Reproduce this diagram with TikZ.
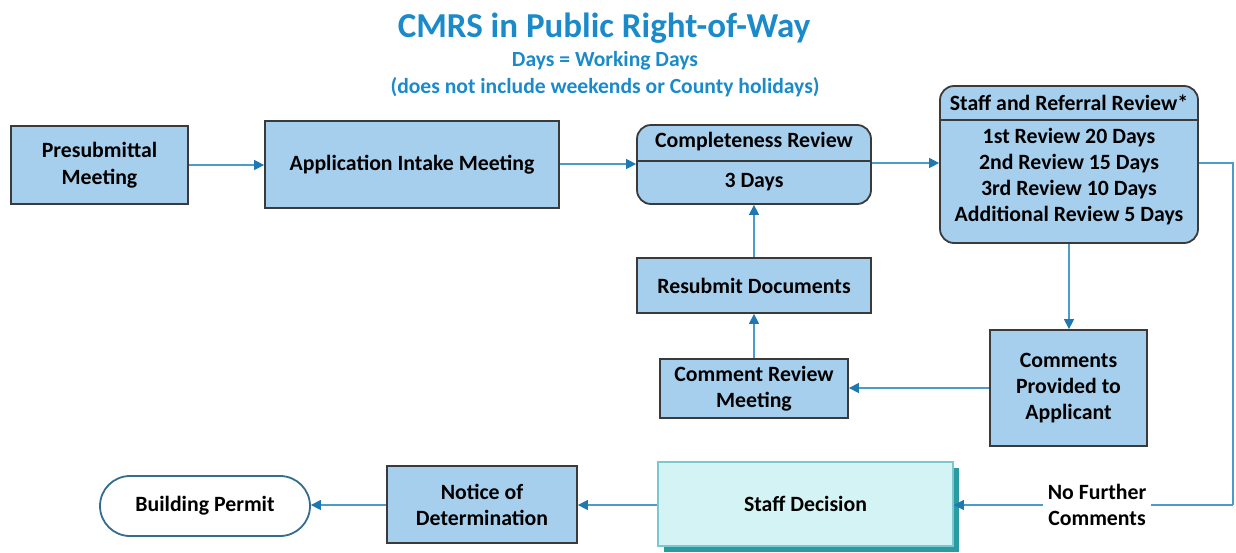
\documentclass[tikz,border=0pt]{standalone}
\usepackage{fontspec}
\setmainfont{Carlito}
\usetikzlibrary{arrows.meta}
\definecolor{boxfill}{HTML}{A6CFEE}
\definecolor{boxline}{HTML}{3A3A3A}
\definecolor{conn}{HTML}{4B9CCB}
\definecolor{tip}{HTML}{1F78B0}
\definecolor{titleblue}{HTML}{1B8ACB}
\definecolor{sdfill}{HTML}{D3F3F5}
\definecolor{sdline}{HTML}{7CC8D0}
\definecolor{sdshadow}{HTML}{2A9BA0}
\tikzset{
  box/.style={draw=boxline, fill=boxfill, line width=0.9pt, align=center, inner sep=0pt,
    font=\bfseries\fontsize{10.9pt}{13pt}\selectfont},
  rbox/.style={box, rounded corners=7pt},
  lbl/.style={align=center, inner sep=0pt, font=\bfseries\fontsize{10.9pt}{13pt}\selectfont},
  conline/.style={draw=conn, line width=0.7pt, -{Triangle[length=5pt,width=5pt,color=tip]}},
  plainline/.style={draw=conn, line width=0.7pt},
}
\begin{document}
\begin{tikzpicture}[x=0.5pt,y=-0.5pt]
\useasboundingbox (0,0) rectangle (1236,552);
% title
\node[text=titleblue, font=\bfseries\fontsize{17.5pt}{20pt}\selectfont] (title) at (604,28) {CMRS in Public Right-of-Way};
\node[text=titleblue, font=\bfseries\fontsize{10.8pt}{12pt}\selectfont] (sub1) at (605,61) {Days = Working Days};
\node[text=titleblue, font=\bfseries\fontsize{10.8pt}{12pt}\selectfont] (sub2) at (605,87) {(does not include weekends or County holidays)};
% boxes
\node[box, minimum width=88.5pt, minimum height=39pt] (pre) at (99.5,165) {Presubmittal\\[0.5pt]Meeting};
\node[box, minimum width=147pt, minimum height=43.5pt] (app) at (412,164.5) {Application Intake Meeting};
% completeness review
\node[rbox, minimum width=117pt, minimum height=39.5pt] (cr) at (754,164.5) {};
\draw[boxline, line width=0.9pt] (637,161) -- (871,161);
\node[lbl] (crt) at (754,142) {Completeness Review};
\node[lbl] (crd) at (754,182) {3 Days};
% staff and referral
\node[rbox, minimum width=129pt, minimum height=78.5pt] (sr) at (1069,164.5) {};
\draw[boxline, line width=0.9pt] (940,120) -- (1198,120);
\node[lbl] (srt) at (1069,103) {Staff and Referral Review*};
\node[lbl] (srd) at (1069,177) {1st Review 20 Days\\2nd Review 15 Days\\3rd Review 10 Days\\Additional Review 5 Days};
% others
\node[box, minimum width=117pt, minimum height=27.5pt] (res) at (754,285.5) {Resubmit Documents};
\node[box, minimum width=94pt, minimum height=29.5pt] (crm) at (754,388.5) {Comment Review\\Meeting};
\node[box, minimum width=78.5pt, minimum height=58pt] (cpa) at (1068.5,388) {Comments\\Provided to\\Applicant};
% staff decision with shadow
\fill[sdshadow] (664,468) rectangle (959,552);
\node[box, draw=sdline, fill=sdfill, minimum width=147.5pt, minimum height=42pt] (sd) at (805.5,504) {Staff Decision};
\node[box, minimum width=95pt, minimum height=38.5pt] (nod) at (482,504.5) {Notice of\\Determination};
\node[box, draw=conn!70!black, fill=white, rounded corners=15pt, minimum width=105pt, minimum height=30pt] (bp) at (205,506) {Building Permit};
% connectors
\draw[conline] (pre.east |- 0,165) -- (app.west |- 0,165);
\draw[conline] (app.east |- 0,164) -- (cr.west |- 0,164);
\draw[conline] (cr.east |- 0,163) -- (sr.west |- 0,163);
\coordinate (c1) at (1233,163);
\coordinate (c2) at (1233,505);
\draw[plainline] (sr.east |- 0,163) -- (c1) -- (c2);
\node[lbl, fill=white, inner xsep=2pt, inner ysep=1pt] (nfc) at (1097,505) {No Further\\Comments};
\draw[plainline] (c2) -- (nfc.east);
\draw[conline] (nfc.west) -- (sd.east |- 0,505);
\draw[conline] (sr.south -| 1069,0) -- (cpa.north -| 1069,0);
\draw[conline] (cpa.west |- 0,388) -- (crm.east |- 0,388);
\draw[conline] (crm.north) -- (res.south);
\draw[conline] (res.north) -- (cr.south);
\draw[conline] (sd.west |- 0,505) -- (nod.east |- 0,505);
\draw[conline] (nod.west |- 0,505) -- (bp.east |- 0,505);
\end{tikzpicture}
\end{document}
